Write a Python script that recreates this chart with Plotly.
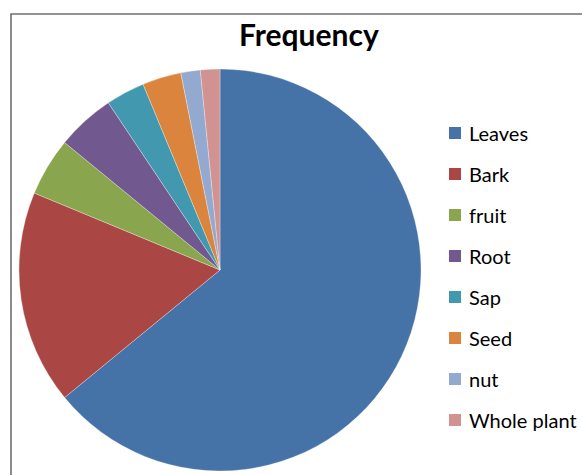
import plotly.graph_objects as go

# Plant parts and how often each one is used
parts = ["Leaves", "Bark", "fruit", "Root", "Sap", "Seed", "nut", "Whole plant"]
frequency = [41, 11, 3, 3, 2, 2, 1, 1]
colors = ["#4572A7", "#AA4643", "#89A54E", "#71588F", "#4198AF", "#DB843D", "#93A9CF", "#D19392"]

W, H = 582, 475
cx, cy, r = 220, 270, 201

fig = go.Figure(
    go.Pie(
        labels=parts,
        values=frequency,
        sort=False,
        direction="clockwise",
        rotation=0,
        textinfo="none",
        hoverinfo="label+value+percent",
        marker=dict(colors=colors, line=dict(color="rgba(255,255,255,0.5)", width=0.6)),
        domain=dict(x=[(cx - r) / W, (cx + r) / W], y=[(H - cy - r) / H, (H - cy + r) / H]),
        showlegend=False,
    )
)

shapes = [
    # chart frame
    dict(type="rect", xref="paper", yref="paper",
         x0=11 / W, x1=1.05, y0=-0.05, y1=(H - 14) / H,
         line=dict(color="#707070", width=1.6), fillcolor="rgba(0,0,0,0)", layer="below"),
]
annotations = [
    dict(text="<b>Frequency</b>", x=309 / W, y=(H - 34) / H, xref="paper", yref="paper",
         xanchor="center", yanchor="middle", showarrow=False,
         font=dict(family="Lato", size=30, color="#000000")),
]

# Legend: square swatch plus label for each part
leg_x, leg_y0, leg_step, sw = 449, 133, 41, 12
for i, (name, col) in enumerate(zip(parts, colors)):
    yc = leg_y0 + i * leg_step
    shapes.append(dict(type="rect", xref="paper", yref="paper",
                       x0=leg_x / W, x1=(leg_x + sw) / W,
                       y0=(H - yc - sw / 2) / H, y1=(H - yc + sw / 2) / H,
                       line=dict(width=0), fillcolor=col))
    annotations.append(dict(text=name, x=(leg_x + sw + 6) / W, y=(H - yc) / H,
                            xref="paper", yref="paper", xanchor="left", yanchor="middle",
                            showarrow=False, font=dict(family="Lato", size=20, color="#000000")))

fig.update_layout(
    width=W, height=H,
    margin=dict(l=0, r=0, t=0, b=0),
    paper_bgcolor="white",
    plot_bgcolor="white",
    shapes=shapes,
    annotations=annotations,
)

fig.write_html("out.html")
